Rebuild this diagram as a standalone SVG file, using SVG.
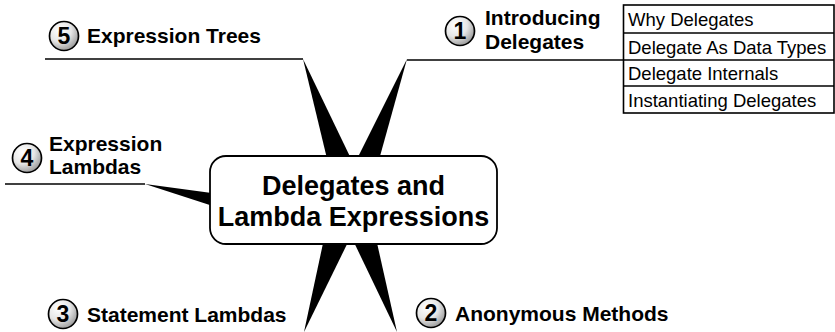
<svg xmlns="http://www.w3.org/2000/svg" width="835" height="332" viewBox="0 0 835 332">
<style>
.lbl{font-family:"Liberation Sans",Arial,sans-serif;font-weight:bold;font-size:21px;fill:#000}
.num{font-family:"Liberation Sans",Arial,sans-serif;font-weight:bold;font-size:23px;fill:#000;text-anchor:middle}
.title{font-family:"Liberation Sans",Arial,sans-serif;font-weight:bold;font-size:27px;fill:#000;text-anchor:middle}
.item{font-family:"Liberation Sans",Arial,sans-serif;font-size:18.5px;fill:#000}
.ln{stroke:#000;stroke-width:1.6;fill:none}
.spk{fill:#000;stroke:none}
.badge{fill:url(#g);stroke:#000;stroke-width:1.7}
</style>
<defs>
<radialGradient id="g" cx="0.35" cy="0.3" r="0.8">
<stop offset="0" stop-color="#ffffff"/>
<stop offset="0.5" stop-color="#e6e6e6"/>
<stop offset="1" stop-color="#8c8c8c"/>
</radialGradient>
</defs>
<rect width="835" height="332" fill="#fff"/>
<g id="connectors">
<line class="ln" x1="45" y1="59" x2="303" y2="59"/>
<polygon class="spk" points="303,59 329,167 355,167"/>
<line class="ln" x1="407" y1="60" x2="623" y2="60"/>
<polygon class="spk" points="407,59 353,167 377,167"/>
<line class="ln" x1="5" y1="184" x2="145" y2="184"/>
<polygon class="spk" points="145,184 219,194 219,208"/>
<polygon class="spk" points="304,332 325,234 352,234"/>
<polygon class="spk" points="397,332 350,234 375,234"/>
</g>
<g id="center">
<rect x="210" y="156" width="287" height="88" rx="16" ry="16" fill="#fff" stroke="#000" stroke-width="1.8"/>
<text class="title" x="353.5" y="195">Delegates and</text>
<text class="title" x="353.5" y="226">Lambda Expressions</text>
</g>
<g id="node1">
<circle class="badge" cx="460" cy="31" r="14.5"/>
<text class="num" x="460" y="39">1</text>
<text class="lbl" x="485" y="25">Introducing</text>
<text class="lbl" x="485" y="49">Delegates</text>
</g>
<g id="node1-table">
<rect x="623.5" y="5" width="210.5" height="108" fill="#fff" stroke="#000" stroke-width="1.6"/>
<line class="ln" x1="623.5" y1="33" x2="834" y2="33"/>
<line class="ln" x1="623.5" y1="60" x2="834" y2="60"/>
<line class="ln" x1="623.5" y1="86" x2="834" y2="86"/>
<text class="item" x="628" y="26">Why Delegates</text>
<text class="item" x="628" y="54">Delegate As Data Types</text>
<text class="item" x="628" y="80">Delegate Internals</text>
<text class="item" x="628" y="107">Instantiating Delegates</text>
</g>
<g id="node2">
<circle class="badge" cx="431" cy="313" r="14.5"/>
<text class="num" x="431" y="321">2</text>
<text class="lbl" x="455" y="321">Anonymous Methods</text>
</g>
<g id="node3">
<circle class="badge" cx="63" cy="314" r="14.5"/>
<text class="num" x="63" y="322">3</text>
<text class="lbl" x="87" y="322">Statement Lambdas</text>
</g>
<g id="node4">
<circle class="badge" cx="27" cy="158" r="14.5"/>
<text class="num" x="27" y="166">4</text>
<text class="lbl" x="49" y="151">Expression</text>
<text class="lbl" x="49" y="174">Lambdas</text>
</g>
<g id="node5">
<circle class="badge" cx="64" cy="36" r="14.5"/>
<text class="num" x="64" y="44">5</text>
<text class="lbl" x="87" y="43">Expression Trees</text>
</g>
</svg>
